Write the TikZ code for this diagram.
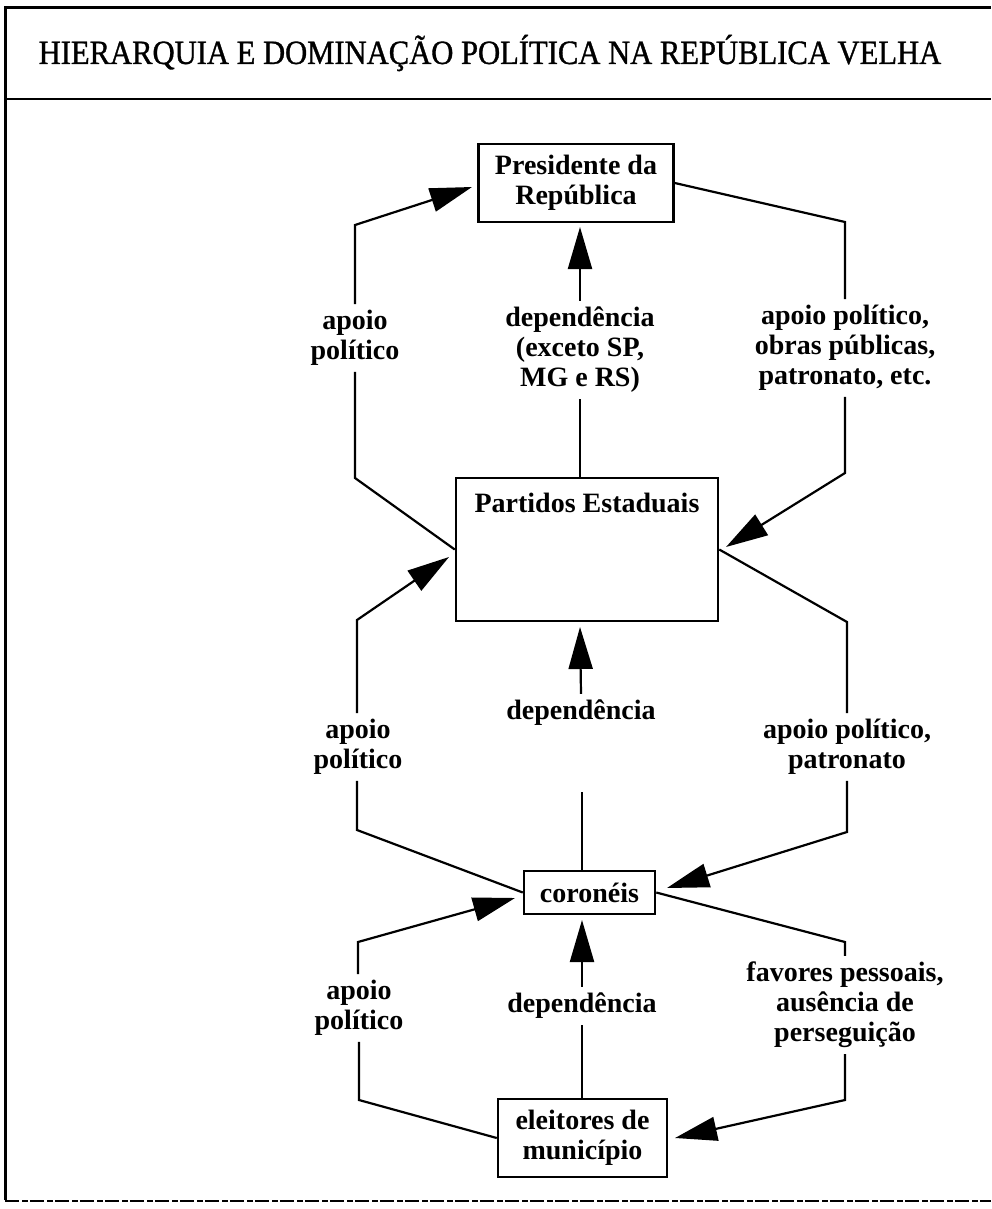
\documentclass[tikz,border=0pt]{standalone}
\usepackage{fontspec}
\setmainfont{Liberation Serif}
\newfontfamily\titlefont[FakeStretch=0.9,FakeBold=1]{Liberation Serif}
\newcommand{\lbl}{\fontsize{28}{30}\selectfont\bfseries}
\usetikzlibrary{arrows.meta}
\begin{document}
\begin{tikzpicture}[x=1pt,y=-1pt,
  box/.style={draw, line width=2.5pt, inner sep=0pt, align=center, font=\lbl},
  lab/.style={align=center, font=\lbl, inner sep=6pt},
  con/.style={line width=2.2pt},
  arr/.style={con, -{Triangle[length=42pt,width=24pt]}},
]
\useasboundingbox (0,0) rectangle (991,1209);
% frame
\draw[line width=3pt] (5,1200) -- (5,8) -- (991,8);
\draw[line width=2.5pt] (5,99) -- (991,99);
\draw[line width=1.5pt, dash pattern=on 14pt off 3pt on 6pt off 2pt] (5,1201) -- (991,1201);
\node (title) at (490,53) {\titlefont\fontsize{34}{36}\selectfont HIERARQUIA E DOMINAÇÃO POLÍTICA NA REPÚBLICA VELHA};
% boxes
\node[box, minimum width=195pt, minimum height=78pt] (pres) at (576,183) {Presidente da\\República};
\node[box, minimum width=262pt, minimum height=143pt] (part) at (587,549.5) {};
\node[lab] (partt) at (587,503) {Partidos Estaduais};
\node[box, minimum width=131pt, minimum height=43pt] (cor) at (589.5,892.5) {coronéis};
\node[box, minimum width=169pt, minimum height=78pt] (ele) at (582.5,1138) {eleitores de\\município};
% labels
\node[lab] (l1) at (355,338) {apoio\\político};
\node[lab] (c1) at (580,350) {dependência\\(exceto SP,\\MG e RS)};
\node[lab] (r1) at (845,348) {apoio político,\\obras públicas,\\patronato, etc.};
\node[lab] (l2) at (358,747) {apoio\\político};
\node[lab] (c2) at (581,713) {dependência};
\node[lab] (r2) at (847,747) {apoio político,\\patronato};
\node[lab] (l3) at (359,1008) {apoio\\político};
\node[lab] (c3) at (582,1006) {dependência};
\node[lab] (r3) at (845,1005) {favores pessoais,\\ausência de\\perseguição};
% bend points and tips
\coordinate (b1) at (355,478);
\coordinate (b2) at (355,225);
\coordinate (t1) at (472,187);
\coordinate (b3) at (845,222);
\coordinate (b4) at (845,473);
\coordinate (t2) at (726,547);
\coordinate (t3) at (580,227);
\coordinate (b5) at (357,620);
\coordinate (t4) at (449,557);
\coordinate (b6) at (357,830);
\coordinate (b7) at (847,622);
\coordinate (b8) at (847,832);
\coordinate (t5) at (667,888);
\coordinate (t6) at (580,627);
\coordinate (s1) at (582,792);
\coordinate (b9) at (358,942);
\coordinate (t7) at (515,898);
\coordinate (t8) at (582,920);
\coordinate (b10) at (359,1100);
\coordinate (b11) at (845,942);
\coordinate (b12) at (845,1100);
\coordinate (t9) at (675,1138);
% connectors
\draw[con] (part.west) -- (b1) -- (l1.south -| b1);
\draw[arr] (l1.north -| b2) -- (b2) -- (t1);
\draw[con] (pres.east) -- (b3) -- (r1.north -| b3);
\draw[arr] (r1.south -| b4) -- (b4) -- (t2);
\draw[arr] (c1.north) -- (t3);
\draw[con] (c1.south) -- (c1.south |- part.north);
\draw[arr] (l2.north -| b5) -- (b5) -- (t4);
\draw[con] (l2.south -| b6) -- (b6) -- (cor.west);
\draw[arr] (c2.north) -- (t6);
\draw[con] (s1) -- (s1 |- cor.north);
\draw[con] (part.east) -- (b7) -- (r2.north -| b7);
\draw[arr] (r2.south -| b8) -- (b8) -- (t5);
\draw[arr] (l3.north -| b9) -- (b9) -- (t7);
\draw[con] (l3.south -| b10) -- (b10) -- (ele.west);
\draw[arr] (c3.north) -- (t8);
\draw[con] (c3.south) -- (c3.south |- ele.north);
\draw[con] (cor.east) -- (b11) -- (r3.north -| b11);
\draw[arr] (r3.south -| b12) -- (b12) -- (t9);
\end{tikzpicture}
\end{document}
